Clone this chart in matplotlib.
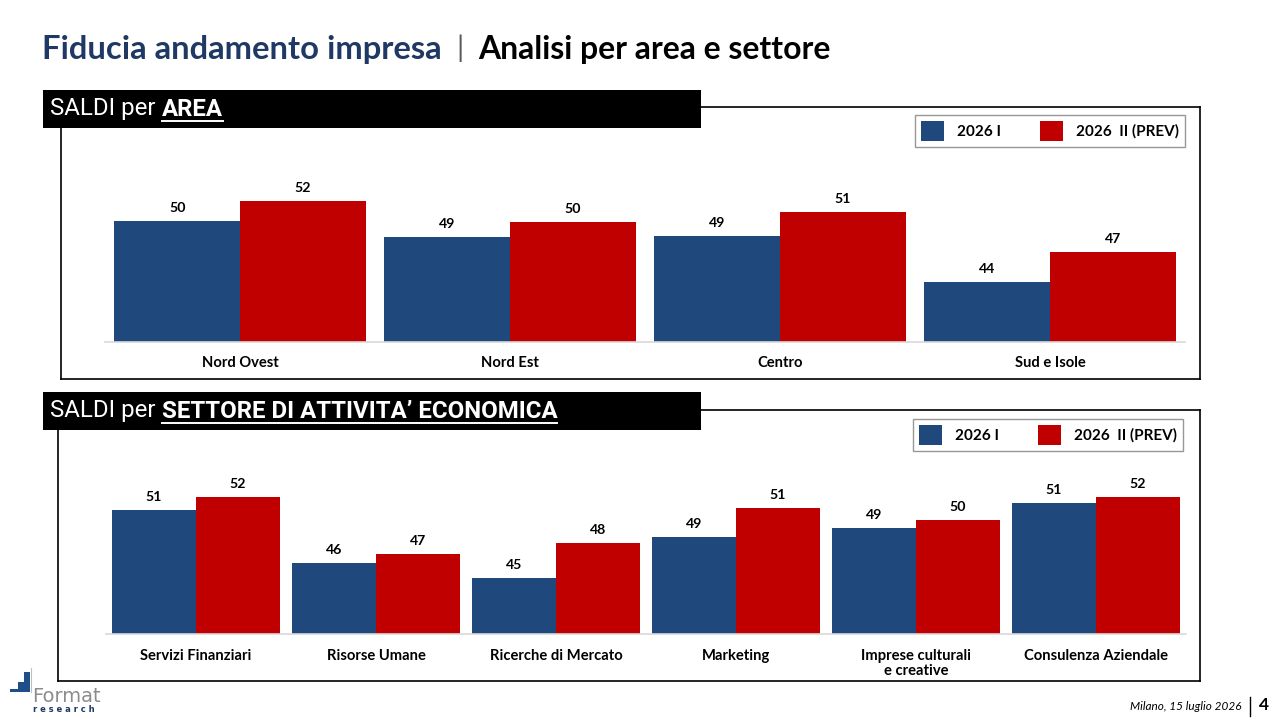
import matplotlib
matplotlib.use("Agg")
import matplotlib.pyplot as plt
from matplotlib.patches import Rectangle, Patch
from matplotlib.lines import Line2D
import numpy as np

# ---------------- data ----------------
area_labels = ["Nord Ovest", "Nord Est", "Centro", "Sud e Isole"]
area_2026_I = [50.3, 48.7, 48.8, 44.2]
area_2026_II = [52.3, 50.2, 51.2, 47.2]

sett_labels = ["Servizi Finanziari", "Risorse Umane", "Ricerche di Mercato",
               "Marketing", "Imprese culturali\ne creative", "Consulenza Aziendale"]
sett_2026_I = [50.8, 46.4, 45.2, 48.6, 49.3, 51.4]
sett_2026_II = [51.9, 47.2, 48.1, 51.0, 50.0, 51.9]

series_names = ["2026 I", "2026  II (PREV)"]

BLUE = "#1F497D"
RED = "#C00000"
NAVY = "#1F3864"
FONT = "Lato"

W, H = 1280, 720
fig = plt.figure(figsize=(12.8, 7.2), dpi=100)
fig.patch.set_facecolor("white")
renderer = fig.canvas.get_renderer()


def fx(x):
    return x / W


def fy(y):
    return 1 - y / H


def px_axes(x0, y0, x1, y1):
    return fig.add_axes([fx(x0), fy(y1), fx(x1) - fx(x0), fy(y0) - fy(y1)])


def fit_text(x, y, s, target_w, base=19, **kw):
    t = fig.text(fx(x), fy(y), s, fontsize=base, va="center", ha="left", **kw)
    w = t.get_window_extent(renderer).width
    t.set_fontsize(base * target_w / w)
    return t


# ---------------- title ----------------
fit_text(42, 49, "Fiducia andamento impresa", 400, fontweight="bold", color=NAVY, family=FONT)
fig.text(fx(460), fy(48), "|", fontsize=21, color="#595959", family=FONT, va="center", ha="center")
fit_text(478, 49, "Analisi per area e settore", 352, fontweight="bold", color="black", family=FONT)


# ---------------- section header helper ----------------
def section(y_box_top, y_box_bot, frame_top, frame_bot, frame_left, light, bold):
    fig.add_artist(Line2D([fx(701), fx(1200)], [fy(frame_top)] * 2, color="black", lw=1.2))
    fig.add_artist(Line2D([fx(1200), fx(1200)], [fy(frame_top), fy(frame_bot)], color="black", lw=1.2))
    fig.add_artist(Line2D([fx(frame_left), fx(1200)], [fy(frame_bot)] * 2, color="black", lw=1.2))
    fig.add_artist(Line2D([fx(frame_left), fx(frame_left)], [fy(y_box_bot), fy(frame_bot)], color="black", lw=1.2))
    fig.add_artist(Rectangle((fx(43), fy(y_box_bot)), fx(701) - fx(43), fy(y_box_top) - fy(y_box_bot),
                             facecolor="black", edgecolor="none"))
    yc = (y_box_top + y_box_bot) / 2
    ta = fig.text(fx(50), fy(yc), light, fontsize=17.3, color="white", family="Roboto",
                  va="center", ha="left")
    b = ta.get_window_extent(renderer)
    tb = fig.text(b.x1 / W, fy(yc), bold, fontsize=17.3, color="white", family="Roboto",
                  fontweight="bold", va="center", ha="left")
    b2 = tb.get_window_extent(renderer)
    fig.add_artist(Line2D([b2.x0 / W, b2.x1 / W], [fy(yc + 11.5)] * 2, color="white", lw=1.4))


section(90, 128, 107, 379, 61, "SALDI per ", "AREA")
section(392, 430, 410, 681, 58, "SALDI per ", "SETTORE DI ATTIVITA\u2019 ECONOMICA")


# ---------------- bar chart helper ----------------
def bars(ax, labels, s1, s2, ymin, px_per_unit, ax_top, ax_base, width, pad):
    x = np.arange(len(labels))
    b1 = ax.bar(x - width / 2, s1, width, color=BLUE, label=series_names[0])
    b2 = ax.bar(x + width / 2, s2, width, color=RED, label=series_names[1])
    ax.set_xlim(-0.5, len(labels) - 0.5)
    ax.set_ylim(ymin, ymin + (ax_base - ax_top) / px_per_unit)
    for b, s in ((b1, s1), (b2, s2)):
        ax.bar_label(b, labels=[f"{v:.0f}" for v in s], padding=5, fontsize=10.2,
                     fontweight="bold", family=FONT, color="black")
    ax.set_xticks(x)
    ax.set_xticklabels(labels, fontsize=10.6, fontweight="bold", family=FONT, linespacing=1.1)
    ax.tick_params(axis="x", length=0, pad=pad)
    ax.set_yticks([])
    for sp in ("top", "left", "right"):
        ax.spines[sp].set_visible(False)
    ax.spines["bottom"].set_color("#D9D9D9")
    ax.spines["bottom"].set_linewidth(1.2)
    ax.set_facecolor("none")
    return b1, b2


ax1 = px_axes(105, 160, 1185, 342.3)
bars(ax1, area_labels, area_2026_I, area_2026_II, 38.2, 10.0, 160, 342.3, 0.465, 10)

ax2 = px_axes(106, 470, 1186, 634)
bars(ax2, sett_labels, sett_2026_I, sett_2026_II, 40.5, 12.0, 470, 634, 0.467, 11)


# ---------------- legends ----------------
def legend(x0, y0, x1, y1):
    handles = [Patch(facecolor=BLUE), Patch(facecolor=RED)]
    lg = fig.legend(handles, series_names, loc="center",
                    bbox_to_anchor=(fx((x0 + x1) / 2), fy((y0 + y1) / 2)),
                    ncol=2, frameon=True, fancybox=False,
                    edgecolor="#7F7F7F", handlelength=1.55, handleheight=1.55,
                    handletextpad=0.85, columnspacing=2.5, borderpad=0.4, borderaxespad=0,
                    prop={"family": FONT, "weight": "bold", "size": 11})
    lg.get_frame().set_linewidth(1.0)
    return lg


legend(913, 112, 1187, 150)
legend(911, 415, 1185, 455)

# ---------------- footer ----------------
fig.text(fx(1241), fy(706), "Milano, 15 luglio 2026", fontsize=8.5, style="italic",
         family=FONT, ha="right", va="center", color="black")
fig.add_artist(Line2D([fx(1250), fx(1250)], [fy(697), fy(716)], color="black", lw=1.0))
fig.text(fx(1259), fy(705), "4", fontsize=12.5, fontweight="bold", family=FONT,
         ha="left", va="center", color="black")

# ---------------- logo ----------------
fig.add_artist(Rectangle((fx(18), fy(692)), fx(12), fy(682) - fy(692),
                         facecolor="#1F4E89", edgecolor="none"))
fig.add_artist(Rectangle((fx(24), fy(682)), fx(6), fy(672) - fy(682),
                         facecolor="#1F4E89", edgecolor="none"))
fig.add_artist(Rectangle((fx(10), fy(692)), fx(8), fy(689) - fy(692),
                         facecolor="#1F4E89", edgecolor="none"))
fig.add_artist(Line2D([fx(31), fx(31)], [fy(668), fy(692)], color="#BFBFBF", lw=0.8))
fig.text(fx(32), fy(697), "Format", fontsize=14, color="#8C8C8C", family="DejaVu Sans",
         ha="left", va="center")
fig.text(fx(33), fy(710), "r e s e a r c h", fontsize=6, color="#1F3864", family="DejaVu Sans",
         fontweight="bold", ha="left", va="center")

fig.savefig("out.png", dpi=100, facecolor="white")
